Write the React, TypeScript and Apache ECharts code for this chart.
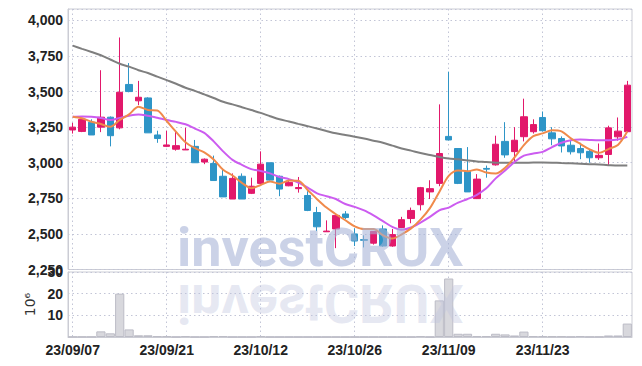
import React, { useEffect, useRef } from "react";
import * as echarts from "echarts";

const dates = [
  "23/09/07", "23/09/08", "23/09/11", "23/09/12", "23/09/13", "23/09/14", "23/09/15", "23/09/18", "23/09/19", "23/09/20",
  "23/09/21", "23/09/22", "23/09/25", "23/09/26", "23/09/27", "23/10/04", "23/10/05", "23/10/06", "23/10/10", "23/10/11",
  "23/10/12", "23/10/13", "23/10/16", "23/10/17", "23/10/18", "23/10/19", "23/10/20", "23/10/23", "23/10/24", "23/10/25",
  "23/10/26", "23/10/27", "23/10/30", "23/10/31", "23/11/01", "23/11/02", "23/11/03", "23/11/06", "23/11/07", "23/11/08",
  "23/11/09", "23/11/10", "23/11/13", "23/11/14", "23/11/15", "23/11/16", "23/11/17", "23/11/20", "23/11/21", "23/11/22",
  "23/11/23", "23/11/24", "23/11/27", "23/11/28", "23/11/29", "23/11/30", "23/12/01", "23/12/04", "23/12/05", "23/12/06",
];

const opens = [
  3230, 3220, 3285, 3250, 3320, 3245, 3550, 3435, 3455, 3195,
  3115, 3095, 3090, 3115, 3005, 2995, 2905, 2745, 2905, 2785,
  2855, 3000, 2905, 2838, 2818, 2770, 2650, 2515, 2535, 2640,
  2500, 2460, 2435, 2535, 2415, 2545, 2608, 2705, 2795, 2855,
  3185, 3100, 2940, 2748, 2960, 2985, 3150, 3078, 3183, 3218,
  3318, 3210, 3170, 3123, 3100, 3080, 3035, 3058, 3182, 3218,
];
const closes = [
  3250, 3305, 3195, 3320, 3190, 3495, 3500, 3460, 3210, 3170,
  3125, 3120, 3095, 3000, 3025, 2875, 2760, 2890, 2745, 2835,
  2990, 2878, 2815, 2862, 2826, 2665, 2550, 2520, 2630, 2615,
  2450, 2455, 2518, 2415, 2495, 2600, 2665, 2825, 2818, 3065,
  3160, 2855, 2795, 2885, 2955, 3130, 3055, 3158, 3323, 3268,
  3225, 3168, 3118, 3077, 3070, 3035, 3052, 3245, 3222, 3545,
];
const lows = [
  3205, 3215, 3195, 3215, 3115, 3235, 3495, 3405, 3210, 3140,
  3110, 3085, 3090, 3000, 2990, 2875, 2760, 2745, 2745, 2780,
  2850, 2875, 2765, 2835, 2790, 2660, 2520, 2515, 2400, 2605,
  2415, 2405, 2425, 2410, 2410, 2540, 2575, 2665, 2745, 2835,
  3158, 2850, 2795, 2745, 2895, 2980, 3035, 3005, 3150, 3205,
  3220, 3123, 3072, 3058, 3025, 3000, 3020, 2982, 3155, 3215,
];
const highs = [
  3280, 3310, 3305, 3650, 3325, 3880, 3700, 3575, 3460, 3225,
  3225, 3225, 3245, 3160, 3030, 3050, 2960, 2925, 2925, 2895,
  3080, 3000, 2910, 2890, 2900, 2800, 2690, 2595, 2630, 2660,
  2540, 2490, 2520, 2560, 2535, 2620, 2685, 2830, 2877, 3410,
  3640, 3100, 3110, 2920, 2980, 3190, 3285, 3250, 3450, 3305,
  3360, 3250, 3185, 3155, 3140, 3090, 3135, 3260, 3318, 3575,
];
// volume in millions (10^6)
const volumes = [
  0.1, 0.1, 0.1, 2.6, 1.7, 20, 3.5, 0.8, 0.8, 0.4,
  0.4, 0.05, 0.4, 0.05, 0.05, 0.4, 0.4, 0.05, 0.05, 0.05,
  0.4, 0.05, 0.05, 0.05, 0.05, 0.05, 0.05, 0.05, 0.05, 0.05,
  0.05, 0.05, 0.05, 0.05, 0.05, 0.05, 0.05, 0.4, 0.05, 16.9,
  27, 1.5, 1.5, 0.4, 0.4, 1.5, 1.2, 0.7, 2.5, 0.4,
  0.4, 0.3, 0.3, 0.1, 0.4, 0.1, 0.1, 0.7, 0.7, 6.2,
];
const ma5 = [
  3323, 3312, 3288, 3272, 3252, 3301, 3340, 3393, 3371, 3367,
  3293, 3217, 3144, 3102, 3073, 3023, 2951, 2910, 2859, 2821,
  2844, 2868, 2853, 2876, 2874, 2809, 2744, 2685, 2638, 2596,
  2553, 2534, 2534, 2491, 2467, 2497, 2539, 2600, 2681, 2795,
  2908, 2946, 2940, 2953, 2931, 2924, 2964, 3037, 3124, 3187,
  3206, 3228, 3220, 3171, 3132, 3094, 3070, 3096, 3125, 3220,
];
const ma20 = [
  3323, 3325, 3323, 3315, 3300, 3315, 3330, 3339, 3330, 3316,
  3300, 3287, 3270, 3240, 3210, 3150, 3080, 3020, 2985, 2955,
  2942, 2925, 2900, 2885, 2860, 2825, 2785, 2765, 2745, 2710,
  2690, 2665, 2630, 2590, 2550, 2530, 2545, 2580, 2620, 2665,
  2685, 2720, 2745, 2775, 2820, 2890, 2945, 3005, 3050, 3065,
  3076, 3110, 3140, 3158, 3163, 3160, 3158, 3158, 3163, 3182,
];
const ma60 = [
  3823, 3800, 3778, 3755, 3725, 3695, 3675, 3650, 3630, 3605,
  3580, 3555, 3527, 3505, 3480, 3455, 3428, 3410, 3390, 3370,
  3350, 3327, 3305, 3290, 3273, 3257, 3240, 3223, 3207, 3195,
  3183, 3170, 3155, 3140, 3120, 3100, 3085, 3068, 3055, 3041,
  3030, 3024, 3016, 3009, 3005, 3000, 3000, 3000, 3000, 3001,
  3001, 3000, 2998, 2996, 2993, 2990, 2987, 2983, 2980, 2980,
];

const priceMin = 2250;
const priceMax = 4080;
const priceInterval = 250;
const volMin = 0;
const volMax = 30;
const volInterval = 10;
const labelEvery = 10;
const watermark = "investCRUX";

const UP = "#e2186b";
const DOWN = "#2e95c7";
const LABEL_FONT = "'Liberation Sans', Arial, sans-serif";
const GRID_COLOR = "#c2c5d6";
const BORDER = "#cbccd4";

export default function App() {
  const ref = useRef<HTMLDivElement>(null);
  useEffect(() => {
    if (!ref.current) return;
    const chart = echarts.init(ref.current, null, { renderer: "svg" });
    const candleData = dates.map((_, i) => [opens[i], closes[i], lows[i], highs[i]]);
    const split = {
      show: true,
      interval: labelEvery - 1,
      alignWithLabel: true,
      lineStyle: { color: GRID_COLOR, type: [1.5, 3] as any, width: 1 },
    };
    const hSplit = { show: true, lineStyle: { color: GRID_COLOR, type: [1.5, 3] as any, width: 1 } };
    const labelStyle = {
      fontSize: 14,
      fontFamily: LABEL_FONT,
      fontWeight: "bold",
      color: "#222",
    };
    chart.setOption({
      animation: false,
      backgroundColor: "#ffffff",
      grid: [
        { left: 68, right: 10, top: 9, height: 260.5, show: true, borderColor: BORDER, borderWidth: 1, backgroundColor: "transparent" },
        { left: 68, right: 10, top: 272, height: 65, show: true, borderColor: BORDER, borderWidth: 1, backgroundColor: "transparent" },
      ],
      xAxis: [
        {
          gridIndex: 0,
          type: "category",
          data: dates,
          boundaryGap: true,
          axisLine: { show: false },
          axisTick: { show: false },
          axisLabel: { show: false },
          splitLine: split,
        },
        {
          gridIndex: 1,
          type: "category",
          data: dates,
          boundaryGap: true,
          axisLine: { show: true, lineStyle: { color: BORDER } },
          axisTick: { show: false },
          axisLabel: { ...labelStyle, interval: labelEvery - 1, margin: 6 },
          splitLine: split,
        },
      ],
      yAxis: [
        {
          gridIndex: 0,
          type: "value",
          min: priceMin,
          max: priceMax,
          interval: priceInterval,
          axisLine: { show: true, lineStyle: { color: BORDER } },
          axisTick: { show: false },
          axisLabel: {
            ...labelStyle,
            showMaxLabel: false,
            margin: 5,
            formatter: (v: number) => v.toLocaleString("en-US"),
          },
          splitLine: hSplit,
        },
        {
          gridIndex: 1,
          type: "value",
          min: volMin,
          max: volMax,
          interval: volInterval,
          name: "10\u2076",
          nameLocation: "middle",
          nameRotate: 90,
          nameGap: 20,
          nameTextStyle: { fontSize: 14, color: "#333", fontFamily: "DejaVu Sans" },
          axisLine: { show: true, lineStyle: { color: BORDER } },
          axisTick: { show: false },
          axisLabel: { ...labelStyle, showMinLabel: false, margin: 5 },
          splitLine: hSplit,
        },
      ],
      series: [
        {
          type: "candlestick",
          xAxisIndex: 0,
          yAxisIndex: 0,
          data: candleData,
          barWidth: 7,
          itemStyle: { color: UP, color0: DOWN, borderColor: UP, borderColor0: DOWN, borderWidth: 1 },
        },
        {
          type: "line",
          xAxisIndex: 0,
          yAxisIndex: 0,
          data: ma60,
          showSymbol: false,
          smooth: 0.3,
          lineStyle: { color: "#7f7f7f", width: 2 },
        },
        {
          type: "line",
          xAxisIndex: 0,
          yAxisIndex: 0,
          data: ma20,
          showSymbol: false,
          smooth: 0.3,
          lineStyle: { color: "#cc5cf0", width: 2 },
        },
        {
          type: "line",
          xAxisIndex: 0,
          yAxisIndex: 0,
          data: ma5,
          showSymbol: false,
          smooth: 0.3,
          lineStyle: { color: "#f08a4b", width: 2 },
        },
        {
          type: "bar",
          xAxisIndex: 1,
          yAxisIndex: 1,
          data: volumes,
          barCategoryGap: "2%",
          itemStyle: { color: "#d8d8dd", borderColor: "#bcbcc6", borderWidth: 1 },
        },
      ],
      graphic: [
        {
          type: "text",
          x: 177,
          y: 274,
          z: 100,
          style: {
            text: watermark,
            fill: "rgba(165,178,214,0.58)",
            fontSize: 54,
            fontWeight: "bold",
            fontFamily: "Roboto",
            align: "left",
            verticalAlign: "bottom",
          },
        },
        {
          type: "text",
          x: 177,
          y: 276,
          scaleY: -1,
          z: 100,
          style: {
            text: watermark,
            fill: "rgba(190,195,222,0.38)",
            fontSize: 54,
            fontWeight: "bold",
            fontFamily: "Roboto",
            align: "left",
            verticalAlign: "bottom",
          },
        },
      ],
    });
    return () => chart.dispose();
  }, []);
  return (
    <div
      ref={ref}
      style={{ position: "fixed", left: 0, top: 0, width: 642, height: 366, background: "#fff" }}
    />
  );
}
